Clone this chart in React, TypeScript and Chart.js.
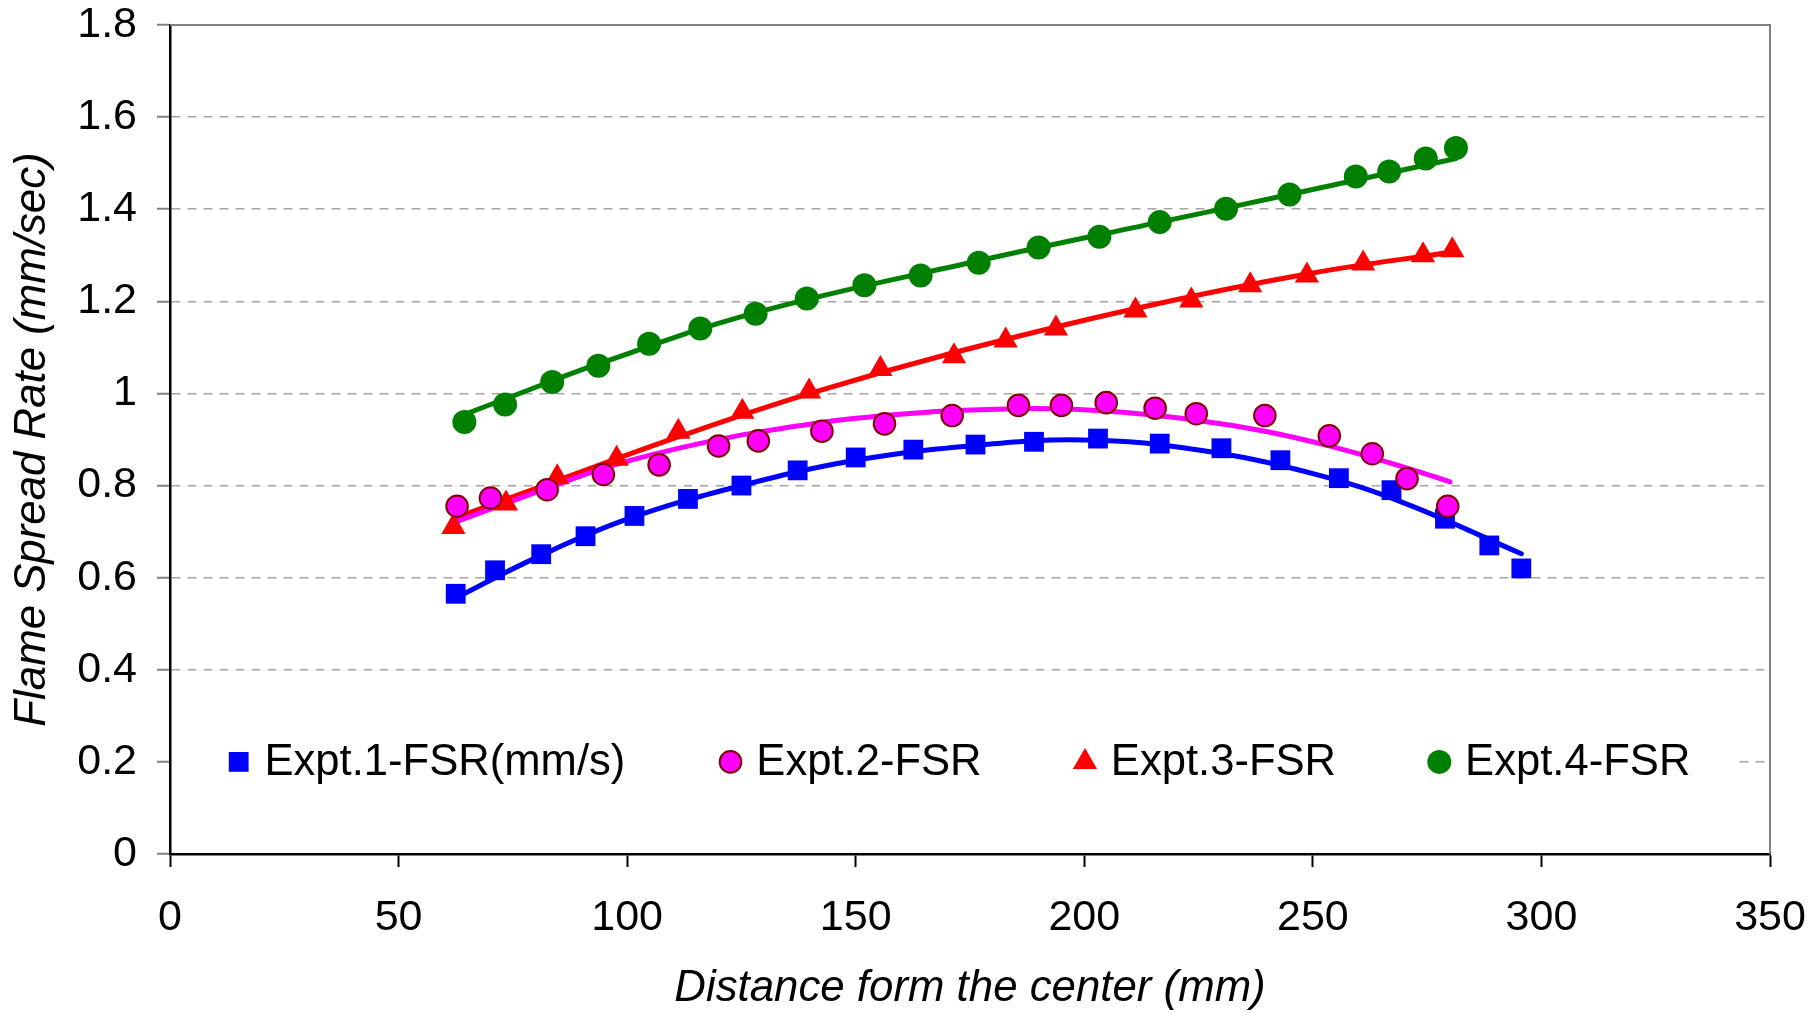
import { useEffect, useRef } from "react";
import { Chart, registerables } from "chart.js";

Chart.register(...registerables);

const FONT_FAMILY = "'Liberation Sans', Arial, Helvetica, sans-serif";

// Axis ticks
const xTickValues = [0, 50, 100, 150, 200, 250, 300, 350];
const xTickLabels = ["0", "50", "100", "150", "200", "250", "300", "350"];
const yTickValues = [0, 0.2, 0.4, 0.6, 0.8, 1, 1.2, 1.4, 1.6, 1.8];
const yTickLabels = ["0", "0.2", "0.4", "0.6", "0.8", "1", "1.2", "1.4", "1.6", "1.8"];

const seriesNames = ["Expt.1-FSR(mm/s)", "Expt.2-FSR", "Expt.3-FSR", "Expt.4-FSR"];

// Expt.1 measured flame spread rate
const expt1Distance = [62.5, 71.1, 81.2, 90.9, 101.6, 113.3, 125.0, 137.3, 150.0, 162.6, 176.2, 189.0, 203.0, 216.5, 230.0, 242.9, 255.7, 267.2, 278.9, 288.6, 295.6];
const expt1Rate = [0.565, 0.616, 0.651, 0.69, 0.734, 0.771, 0.8, 0.833, 0.861, 0.878, 0.889, 0.895, 0.902, 0.891, 0.881, 0.855, 0.816, 0.79, 0.728, 0.67, 0.62];
// Expt.1 trend line
const trend1Distance = [62.5, 80, 100, 125, 150, 175, 200, 225, 250, 270, 295.6];
const trend1Rate = [0.556, 0.643, 0.727, 0.8, 0.855, 0.886, 0.899, 0.877, 0.826, 0.762, 0.652];

// Expt.2
const expt2Distance = [62.8, 70.1, 82.5, 94.8, 107.0, 120.0, 128.7, 142.6, 156.3, 171.1, 185.6, 195.0, 204.8, 215.5, 224.5, 239.5, 253.6, 263.0, 270.6, 279.5];
const expt2Rate = [0.755, 0.773, 0.791, 0.824, 0.845, 0.886, 0.897, 0.918, 0.934, 0.952, 0.974, 0.974, 0.98, 0.968, 0.956, 0.952, 0.908, 0.869, 0.815, 0.755];
const trend2Distance = [62.5, 80, 95, 110, 128.7, 156.3, 185.6, 204.8, 224.5, 239.5, 253.6, 270.6, 280];
const trend2Rate = [0.721, 0.785, 0.838, 0.878, 0.916, 0.952, 0.967, 0.962, 0.942, 0.918, 0.886, 0.838, 0.808];

// Expt.3
const expt3Distance = [62.0, 73.5, 84.7, 97.7, 111.2, 125.2, 139.8, 155.4, 171.5, 182.8, 193.8, 211.2, 223.4, 236.3, 248.7, 261.0, 274.1, 280.5];
const expt3Rate = [0.71, 0.761, 0.818, 0.858, 0.917, 0.96, 1.004, 1.053, 1.081, 1.115, 1.141, 1.18, 1.202, 1.235, 1.256, 1.282, 1.3, 1.311];
const trend3Distance = [62, 85, 111, 140, 172, 211, 249, 280.5];
const trend3Rate = [0.728, 0.812, 0.905, 1.0, 1.09, 1.184, 1.26, 1.307];

// Expt.4
const expt4Distance = [64.4, 73.3, 83.6, 93.7, 104.8, 116.0, 128.1, 139.3, 151.9, 164.2, 176.9, 190.0, 203.3, 216.5, 231.0, 244.9, 259.4, 266.7, 274.7, 281.3];
const expt4Rate = [0.938, 0.976, 1.025, 1.06, 1.108, 1.141, 1.173, 1.206, 1.235, 1.256, 1.284, 1.317, 1.34, 1.372, 1.401, 1.432, 1.471, 1.482, 1.51, 1.533];
const trend4Distance = [63.8, 73.3, 93.7, 128, 176.9, 216.5, 244.9, 281.3];
const trend4Rate = [0.952, 0.988, 1.064, 1.175, 1.288, 1.372, 1.432, 1.51];

type Marker = { shape: "rect" | "circle" | "triangle"; radius: number; fill: string; stroke: string; strokeWidth: number; line: string };

const markers: Marker[] = [
  { shape: "rect", radius: 14, fill: "#0000FF", stroke: "#0000FF", strokeWidth: 0, line: "#0000FF" },
  { shape: "circle", radius: 10.8, fill: "#FF00FF", stroke: "#800000", strokeWidth: 2, line: "#FF00FF" },
  { shape: "triangle", radius: 14, fill: "#FF0000", stroke: "#FF0000", strokeWidth: 0, line: "#FF0000" },
  { shape: "circle", radius: 12, fill: "#008000", stroke: "#008000", strokeWidth: 0, line: "#008000" },
];

// Legend layout: marker centres measured from the plot's left edge
const legendMarkerOffsets = [68.7, 560.5, 915, 1269.3];
const legendTextGap = 25.8;

const pts = (xs: number[], ys: number[]) => xs.map((x, i) => ({ x, y: ys[i] }));

const measured = [
  pts(expt1Distance, expt1Rate),
  pts(expt2Distance, expt2Rate),
  pts(expt3Distance, expt3Rate),
  pts(expt4Distance, expt4Rate),
];
const trends = [
  pts(trend1Distance, trend1Rate),
  pts(trend2Distance, trend2Rate),
  pts(trend3Distance, trend3Rate),
  pts(trend4Distance, trend4Rate),
];

function drawMarker(ctx: CanvasRenderingContext2D, m: Marker, x: number, y: number) {
  ctx.beginPath();
  if (m.shape === "rect") {
    const s = Math.SQRT1_2 * m.radius;
    ctx.rect(x - s, y - s, 2 * s, 2 * s);
  } else if (m.shape === "circle") {
    ctx.arc(x, y, m.radius, 0, Math.PI * 2);
  } else {
    const r = m.radius;
    ctx.moveTo(x, y - r);
    ctx.lineTo(x + r * Math.sin((2 * Math.PI) / 3), y - r * Math.cos((2 * Math.PI) / 3));
    ctx.lineTo(x + r * Math.sin((4 * Math.PI) / 3), y - r * Math.cos((4 * Math.PI) / 3));
    ctx.closePath();
  }
  ctx.fillStyle = m.fill;
  ctx.fill();
  if (m.strokeWidth > 0) {
    ctx.lineWidth = m.strokeWidth;
    ctx.strokeStyle = m.stroke;
    ctx.stroke();
  }
}

// Solid top and right edges of the plot frame
const framePlugin = {
  id: "plotFrame",
  beforeDatasetsDraw(chart: any) {
    const { ctx, chartArea } = chart;
    ctx.save();
    ctx.strokeStyle = "#808080";
    ctx.lineWidth = 2;
    ctx.beginPath();
    ctx.moveTo(chartArea.left, chartArea.top);
    ctx.lineTo(chartArea.right, chartArea.top);
    ctx.lineTo(chartArea.right, chartArea.bottom);
    ctx.stroke();
    ctx.restore();
  },
};

// Single-row legend placed inside the plot on the 0.2 line
const legendPlugin = {
  id: "insideLegend",
  beforeDatasetsDraw(chart: any) {
    const { ctx, chartArea, scales } = chart;
    const yc = scales.y.getPixelForValue(0.2);
    ctx.save();
    ctx.fillStyle = "#FFFFFF";
    ctx.fillRect(chartArea.left + 2, yc - 30, 1566, 60);
    ctx.font = `43.6px ${FONT_FAMILY}`;
    ctx.textBaseline = "middle";
    ctx.textAlign = "left";
    seriesNames.forEach((name, i) => {
      const x = chartArea.left + legendMarkerOffsets[i];
      drawMarker(ctx, markers[i], x, yc);
      ctx.fillStyle = "#000000";
      ctx.fillText(name, x + legendTextGap, yc + 1);
    });
    ctx.restore();
  },
};

export default function App() {
  const ref = useRef<HTMLCanvasElement>(null);

  useEffect(() => {
    const canvas = ref.current;
    if (!canvas) return;

    const lineSets = [1, 2, 0, 3].map((i) => ({
      label: `${seriesNames[i]} trend`,
      data: trends[i],
      showLine: true,
      borderColor: markers[i].line,
      backgroundColor: markers[i].line,
      borderWidth: 5,
      borderCapStyle: "round" as const,
      tension: 0.4,
      pointRadius: 0,
      fill: false,
    }));
    const markerSets = [1, 0, 2, 3].map((i) => ({
      label: seriesNames[i],
      data: measured[i],
      showLine: false,
      pointStyle: markers[i].shape,
      pointRadius: markers[i].radius,
      pointBackgroundColor: markers[i].fill,
      pointBorderColor: markers[i].stroke,
      pointBorderWidth: markers[i].strokeWidth,
    }));

    const chart = new Chart(canvas, {
      type: "scatter",
      data: { datasets: [...markerSets, ...lineSets] as any },
      options: {
        animation: false,
        responsive: false,
        devicePixelRatio: 1,
        events: [],
        layout: { padding: { left: 0, top: 25, right: 48, bottom: 0 } },
        plugins: { legend: { display: false }, tooltip: { enabled: false } },
        scales: {
          x: {
            type: "linear",
            min: 0,
            max: 350,
            afterBuildTicks: (scale: any) => {
              scale.ticks = xTickValues.map((value) => ({ value }));
            },
            afterFit: (scale: any) => {
              scale.height = 159;
              scale.paddingLeft = 0;
              scale.paddingRight = 0;
              scale.paddingTop = 0;
              scale.paddingBottom = 0;
            },
            ticks: {
              callback: (_v: any, i: number) => xTickLabels[i],
              color: "#000000",
              font: { family: FONT_FAMILY, size: 43 },
              padding: 25,
              maxRotation: 0,
              autoSkip: false,
            },
            grid: {
              drawOnChartArea: false,
              drawTicks: true,
              tickLength: 13,
              tickColor: "#000000",
              tickWidth: 2,
            },
            border: { display: true, color: "#000000", width: 2.5 },
            title: {
              display: true,
              text: "Distance form the center (mm)",
              color: "#000000",
              font: { family: FONT_FAMILY, size: 43.8, style: "italic" },
              padding: { top: 0, bottom: -2 },
            },
          },
          y: {
            type: "linear",
            min: 0,
            max: 1.8,
            afterBuildTicks: (scale: any) => {
              scale.ticks = yTickValues.map((value) => ({ value }));
            },
            afterFit: (scale: any) => {
              scale.width = 170;
              scale.paddingLeft = 0;
              scale.paddingRight = 0;
              scale.paddingTop = 0;
              scale.paddingBottom = 0;
            },
            ticks: {
              callback: (_v: any, i: number) => yTickLabels[i],
              color: "#000000",
              font: { family: FONT_FAMILY, size: 43 },
              padding: 20,
              autoSkip: false,
            },
            grid: {
              drawOnChartArea: true,
              color: "#A6A6A6",
              lineWidth: 1.5,
              drawTicks: true,
              tickLength: 13,
              tickColor: "#808080",
              tickWidth: 2,
              tickBorderDash: [],
            },
            border: { display: true, color: "#000000", width: 2.5, dash: [9, 7] },
            title: {
              display: true,
              text: "Flame Spread Rate (mm/sec)",
              color: "#000000",
              font: { family: FONT_FAMILY, size: 43.8, style: "italic" },
              padding: { top: 7, bottom: 0 },
            },
          },
        },
      } as any,
      plugins: [framePlugin, legendPlugin],
    });

    return () => chart.destroy();
  }, []);

  return (
    <div style={{ position: "fixed", left: 0, top: 0, width: 1818, height: 1013, background: "#FFFFFF" }}>
      <canvas ref={ref} width={1818} height={1013} style={{ display: "block" }} />
    </div>
  );
}
